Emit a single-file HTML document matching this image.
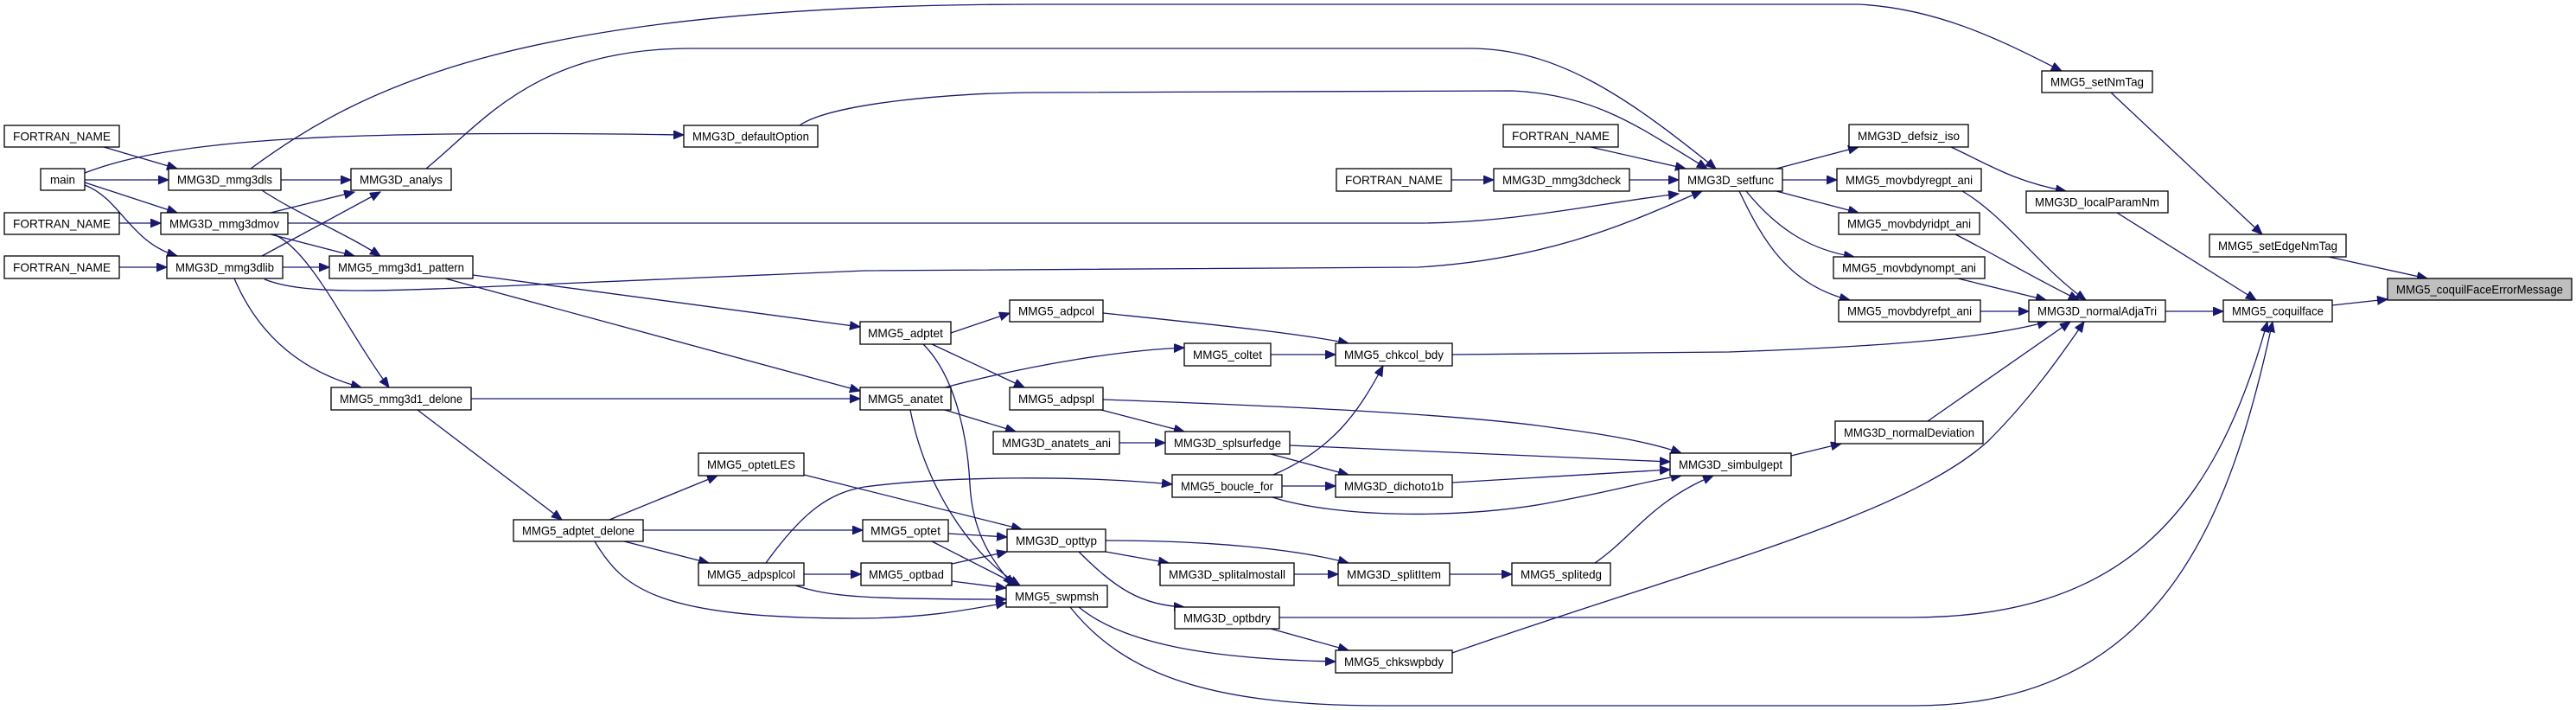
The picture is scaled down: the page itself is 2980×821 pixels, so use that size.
<!DOCTYPE html>
<html><head><meta charset="utf-8"><style>
html,body{margin:0;padding:0;background:#fff;}
svg{display:block;}
text{font-family:"Liberation Sans",sans-serif;font-size:14px;fill:#000;}
.e{fill:none;stroke:#191970;stroke-width:1.3;marker-end:url(#a);}
.n{fill:#fff;stroke:#000;stroke-width:1.3;}
</style></head><body>
<svg width="2980" height="821" viewBox="0 0 2980 821" xmlns="http://www.w3.org/2000/svg">
<defs><marker id="a" markerUnits="userSpaceOnUse" markerWidth="14" markerHeight="12" refX="12" refY="5" orient="auto"><path d="M0,0 L12,5 L0,10 z" fill="#191970" stroke="#191970"/></marker></defs>
<g>
<path class="e" d="M120,170 L205,195"/>
<path class="e" d="M98,208 L195,208"/>
<path class="e" d="M98,211 L205,246"/>
<path class="e" d="M98,214 C140,230 150,280 205,296"/>
<path class="e" d="M98,200 C200,160 400,150 791,156"/>
<path class="e" d="M138,258 L186,258"/>
<path class="e" d="M138,309 L193,309"/>
<path class="e" d="M325,208 L406,208"/>
<path class="e" d="M303,220 C340,245 400,270 440,296"/>
<path class="e" d="M290,195 C420,100 600,5 1200,5 L2150,5 C2250,10 2330,55 2385,82"/>
<path class="e" d="M493,195 C560,140 620,56 800,56 L1700,56 C1800,56 1880,110 1985,195"/>
<path class="e" d="M925,145 C960,120 1100,107 1200,107 L1750,105 C1850,110 1900,150 1975,195"/>
<path class="e" d="M313,246 L410,222"/>
<path class="e" d="M313,271 L410,296"/>
<path class="e" d="M317,271 C360,290 400,380 450,448"/>
<path class="e" d="M333,258 L1640,258 C1750,258 1850,235 1942,224"/>
<path class="e" d="M303,296 L440,222"/>
<path class="e" d="M327,309 L381,309"/>
<path class="e" d="M271,322 C300,390 350,430 418,448"/>
<path class="e" d="M306,323 C350,340 420,338 600,330 L1000,313 L1640,309 C1800,300 1900,250 1969,221"/>
<path class="e" d="M547,318 L995,378"/>
<path class="e" d="M515,322 L995,452"/>
<path class="e" d="M545,461 L995,461"/>
<path class="e" d="M483,474 L650,601"/>
<path class="e" d="M705,601 L830,550"/>
<path class="e" d="M744,613 L998,613"/>
<path class="e" d="M722,626 L820,651"/>
<path class="e" d="M688,626 C720,680 760,715 990,715 C1070,715 1120,705 1164,697"/>
<path class="e" d="M886,651 C930,590 960,570 1000,563 C1100,550 1250,550 1356,560"/>
<path class="e" d="M930,664 L996,664"/>
<path class="e" d="M920,677 C960,690 1000,693 1164,693"/>
<path class="e" d="M930,549 L1182,612"/>
<path class="e" d="M1097,617 L1165,621"/>
<path class="e" d="M1078,626 L1178,677"/>
<path class="e" d="M1101,652 L1165,638"/>
<path class="e" d="M1101,672 L1164,680"/>
<path class="e" d="M1100,385 L1168,362"/>
<path class="e" d="M1078,398 L1185,448"/>
<path class="e" d="M1068,398 C1110,440 1120,520 1122,560 C1125,620 1150,650 1172,677"/>
<path class="e" d="M1093,448 C1200,420 1300,405 1370,402"/>
<path class="e" d="M1093,474 L1175,499"/>
<path class="e" d="M1053,474 C1070,560 1120,640 1180,677"/>
<path class="e" d="M1276,362 C1400,375 1500,385 1560,397"/>
<path class="e" d="M1470,410 L1545,410"/>
<path class="e" d="M1680,410 L2000,407 C2200,400 2300,390 2369,372"/>
<path class="e" d="M1274,474 L1370,499"/>
<path class="e" d="M1276,462 C1500,470 1700,480 1800,495 C1880,505 1920,515 1945,524"/>
<path class="e" d="M1295,512 L1348,512"/>
<path class="e" d="M1492,515 L1932,534"/>
<path class="e" d="M1470,525 L1560,549"/>
<path class="e" d="M1473,549 C1540,520 1570,480 1600,423"/>
<path class="e" d="M1483,562 L1545,562"/>
<path class="e" d="M1472,575 C1550,600 1700,600 1800,580 C1880,565 1910,555 1945,550"/>
<path class="e" d="M1680,558 L1932,543"/>
<path class="e" d="M1279,625 C1400,625 1500,635 1560,651"/>
<path class="e" d="M1279,638 L1352,651"/>
<path class="e" d="M1248,638 C1290,680 1320,700 1370,702"/>
<path class="e" d="M1497,664 L1548,664"/>
<path class="e" d="M1677,664 L1749,664"/>
<path class="e" d="M1845,651 C1890,620 1910,580 1982,550"/>
<path class="e" d="M1248,702 C1300,745 1400,762 1545,765"/>
<path class="e" d="M1238,702 C1300,780 1400,816 1600,816 L2215,816 C2500,816 2580,600 2629,372"/>
<path class="e" d="M1470,727 L1560,752"/>
<path class="e" d="M1480,714 L2210,714 C2450,714 2560,600 2623,372"/>
<path class="e" d="M1680,755 C1950,660 2200,600 2300,510 C2350,460 2385,410 2411,372"/>
<path class="e" d="M2072,527 L2130,513"/>
<path class="e" d="M2230,487 L2395,372"/>
<path class="e" d="M1840,170 L1950,195"/>
<path class="e" d="M1679,208 L1728,208"/>
<path class="e" d="M1885,208 L1942,208"/>
<path class="e" d="M2055,195 L2150,170"/>
<path class="e" d="M2062,208 L2125,208"/>
<path class="e" d="M2055,221 L2150,246"/>
<path class="e" d="M2020,221 C2060,270 2100,290 2145,297"/>
<path class="e" d="M2012,221 C2040,280 2070,330 2140,347"/>
<path class="e" d="M2257,170 C2300,190 2330,210 2390,221"/>
<path class="e" d="M2270,221 C2320,250 2360,310 2413,347"/>
<path class="e" d="M2262,271 C2300,290 2350,320 2405,347"/>
<path class="e" d="M2265,322 L2367,347"/>
<path class="e" d="M2291,360 L2347,360"/>
<path class="e" d="M2449,246 L2610,347"/>
<path class="e" d="M2505,360 L2572,360"/>
<path class="e" d="M2442,107 L2617,271"/>
<path class="e" d="M2694,297 L2808,322"/>
<path class="e" d="M2698,353 L2762,346"/>
</g>
<g id="nodes"></g>
<g>
<rect class="n" x="5" y="145" width="133" height="25"/><text x="71.5" y="162.5" text-anchor="middle" textLength="113" lengthAdjust="spacingAndGlyphs">FORTRAN_NAME</text>
<rect class="n" x="47" y="195" width="51" height="25"/><text x="72.5" y="212.5" text-anchor="middle" textLength="29" lengthAdjust="spacingAndGlyphs">main</text>
<rect class="n" x="195" y="195" width="130" height="25"/><text x="260" y="212.5" text-anchor="middle" textLength="110" lengthAdjust="spacingAndGlyphs">MMG3D_mmg3dls</text>
<rect class="n" x="406" y="195" width="116" height="25"/><text x="464" y="212.5" text-anchor="middle" textLength="96" lengthAdjust="spacingAndGlyphs">MMG3D_analys</text>
<rect class="n" x="791" y="145" width="155" height="25"/><text x="868.5" y="162.5" text-anchor="middle" textLength="135" lengthAdjust="spacingAndGlyphs">MMG3D_defaultOption</text>
<rect class="n" x="5" y="246" width="133" height="25"/><text x="71.5" y="263.5" text-anchor="middle" textLength="113" lengthAdjust="spacingAndGlyphs">FORTRAN_NAME</text>
<rect class="n" x="186" y="246" width="147" height="25"/><text x="259.5" y="263.5" text-anchor="middle" textLength="127" lengthAdjust="spacingAndGlyphs">MMG3D_mmg3dmov</text>
<rect class="n" x="5" y="296" width="133" height="26"/><text x="71.5" y="314" text-anchor="middle" textLength="113" lengthAdjust="spacingAndGlyphs">FORTRAN_NAME</text>
<rect class="n" x="193" y="296" width="134" height="26"/><text x="260" y="314" text-anchor="middle" textLength="114" lengthAdjust="spacingAndGlyphs">MMG3D_mmg3dlib</text>
<rect class="n" x="381" y="296" width="166" height="26"/><text x="464" y="314" text-anchor="middle" textLength="146" lengthAdjust="spacingAndGlyphs">MMG5_mmg3d1_pattern</text>
<rect class="n" x="383" y="448" width="162" height="26"/><text x="464" y="466" text-anchor="middle" textLength="142" lengthAdjust="spacingAndGlyphs">MMG5_mmg3d1_delone</text>
<rect class="n" x="594" y="601" width="150" height="25"/><text x="669" y="618.5" text-anchor="middle" textLength="130" lengthAdjust="spacingAndGlyphs">MMG5_adptet_delone</text>
<rect class="n" x="808" y="524" width="122" height="26"/><text x="869" y="542" text-anchor="middle" textLength="102" lengthAdjust="spacingAndGlyphs">MMG5_optetLES</text>
<rect class="n" x="808" y="651" width="122" height="26"/><text x="869" y="669" text-anchor="middle" textLength="102" lengthAdjust="spacingAndGlyphs">MMG5_adpsplcol</text>
<rect class="n" x="995" y="372" width="105" height="26"/><text x="1047.5" y="390" text-anchor="middle" textLength="87" lengthAdjust="spacingAndGlyphs">MMG5_adptet</text>
<rect class="n" x="995" y="448" width="105" height="26"/><text x="1047.5" y="466" text-anchor="middle" textLength="87" lengthAdjust="spacingAndGlyphs">MMG5_anatet</text>
<rect class="n" x="998" y="601" width="99" height="25"/><text x="1047.5" y="618.5" text-anchor="middle" textLength="81" lengthAdjust="spacingAndGlyphs">MMG5_optet</text>
<rect class="n" x="996" y="651" width="105" height="26"/><text x="1048.5" y="669" text-anchor="middle" textLength="87" lengthAdjust="spacingAndGlyphs">MMG5_optbad</text>
<rect class="n" x="1168" y="347" width="108" height="25"/><text x="1222" y="364.5" text-anchor="middle" textLength="88" lengthAdjust="spacingAndGlyphs">MMG5_adpcol</text>
<rect class="n" x="1168" y="448" width="108" height="26"/><text x="1222" y="466" text-anchor="middle" textLength="88" lengthAdjust="spacingAndGlyphs">MMG5_adpspl</text>
<rect class="n" x="1149" y="499" width="146" height="26"/><text x="1222" y="517" text-anchor="middle" textLength="126" lengthAdjust="spacingAndGlyphs">MMG3D_anatets_ani</text>
<rect class="n" x="1165" y="612" width="114" height="26"/><text x="1222" y="630" text-anchor="middle" textLength="94" lengthAdjust="spacingAndGlyphs">MMG3D_opttyp</text>
<rect class="n" x="1164" y="677" width="117" height="25"/><text x="1222.5" y="694.5" text-anchor="middle" textLength="97" lengthAdjust="spacingAndGlyphs">MMG5_swpmsh</text>
<rect class="n" x="1370" y="397" width="100" height="26"/><text x="1420" y="415" text-anchor="middle" textLength="80" lengthAdjust="spacingAndGlyphs">MMG5_coltet</text>
<rect class="n" x="1348" y="499" width="144" height="26"/><text x="1420" y="517" text-anchor="middle" textLength="124" lengthAdjust="spacingAndGlyphs">MMG3D_splsurfedge</text>
<rect class="n" x="1356" y="549" width="127" height="26"/><text x="1419.5" y="567" text-anchor="middle" textLength="107" lengthAdjust="spacingAndGlyphs">MMG5_boucle_for</text>
<rect class="n" x="1342" y="651" width="155" height="26"/><text x="1419.5" y="669" text-anchor="middle" textLength="135" lengthAdjust="spacingAndGlyphs">MMG3D_splitalmostall</text>
<rect class="n" x="1359" y="702" width="121" height="25"/><text x="1419.5" y="719.5" text-anchor="middle" textLength="101" lengthAdjust="spacingAndGlyphs">MMG3D_optbdry</text>
<rect class="n" x="1545" y="397" width="135" height="26"/><text x="1612.5" y="415" text-anchor="middle" textLength="115" lengthAdjust="spacingAndGlyphs">MMG5_chkcol_bdy</text>
<rect class="n" x="1545" y="549" width="135" height="26"/><text x="1612.5" y="567" text-anchor="middle" textLength="115" lengthAdjust="spacingAndGlyphs">MMG3D_dichoto1b</text>
<rect class="n" x="1548" y="651" width="129" height="26"/><text x="1612.5" y="669" text-anchor="middle" textLength="109" lengthAdjust="spacingAndGlyphs">MMG3D_splitItem</text>
<rect class="n" x="1545" y="752" width="135" height="26"/><text x="1612.5" y="770" text-anchor="middle" textLength="115" lengthAdjust="spacingAndGlyphs">MMG5_chkswpbdy</text>
<rect class="n" x="1546" y="195" width="133" height="26"/><text x="1612.5" y="213" text-anchor="middle" textLength="113" lengthAdjust="spacingAndGlyphs">FORTRAN_NAME</text>
<rect class="n" x="1739" y="144" width="133" height="26"/><text x="1805.5" y="162" text-anchor="middle" textLength="113" lengthAdjust="spacingAndGlyphs">FORTRAN_NAME</text>
<rect class="n" x="1728" y="195" width="157" height="26"/><text x="1806.5" y="213" text-anchor="middle" textLength="137" lengthAdjust="spacingAndGlyphs">MMG3D_mmg3dcheck</text>
<rect class="n" x="1749" y="651" width="114" height="26"/><text x="1806" y="669" text-anchor="middle" textLength="94" lengthAdjust="spacingAndGlyphs">MMG5_splitedg</text>
<rect class="n" x="1942" y="195" width="120" height="26"/><text x="2002" y="213" text-anchor="middle" textLength="100" lengthAdjust="spacingAndGlyphs">MMG3D_setfunc</text>
<rect class="n" x="1932" y="524" width="140" height="26"/><text x="2002" y="542" text-anchor="middle" textLength="120" lengthAdjust="spacingAndGlyphs">MMG3D_simbulgept</text>
<rect class="n" x="2125" y="195" width="167" height="26"/><text x="2208.5" y="213" text-anchor="middle" textLength="147" lengthAdjust="spacingAndGlyphs">MMG5_movbdyregpt_ani</text>
<rect class="n" x="2139" y="144" width="138" height="26"/><text x="2208" y="162" text-anchor="middle" textLength="118" lengthAdjust="spacingAndGlyphs">MMG3D_defsiz_iso</text>
<rect class="n" x="2127" y="246" width="163" height="25"/><text x="2208.5" y="263.5" text-anchor="middle" textLength="143" lengthAdjust="spacingAndGlyphs">MMG5_movbdyridpt_ani</text>
<rect class="n" x="2121" y="297" width="175" height="25"/><text x="2208.5" y="314.5" text-anchor="middle" textLength="155" lengthAdjust="spacingAndGlyphs">MMG5_movbdynompt_ani</text>
<rect class="n" x="2127" y="347" width="164" height="25"/><text x="2209" y="364.5" text-anchor="middle" textLength="144" lengthAdjust="spacingAndGlyphs">MMG5_movbdyrefpt_ani</text>
<rect class="n" x="2123" y="487" width="171" height="26"/><text x="2208.5" y="505" text-anchor="middle" textLength="151" lengthAdjust="spacingAndGlyphs">MMG3D_normalDeviation</text>
<rect class="n" x="2362" y="82" width="128" height="25"/><text x="2426" y="99.5" text-anchor="middle" textLength="108" lengthAdjust="spacingAndGlyphs">MMG5_setNmTag</text>
<rect class="n" x="2344" y="221" width="164" height="25"/><text x="2426" y="238.5" text-anchor="middle" textLength="144" lengthAdjust="spacingAndGlyphs">MMG3D_localParamNm</text>
<rect class="n" x="2347" y="347" width="158" height="25"/><text x="2426" y="364.5" text-anchor="middle" textLength="138" lengthAdjust="spacingAndGlyphs">MMG3D_normalAdjaTri</text>
<rect class="n" x="2556" y="271" width="158" height="26"/><text x="2635" y="289" text-anchor="middle" textLength="138" lengthAdjust="spacingAndGlyphs">MMG5_setEdgeNmTag</text>
<rect class="n" x="2572" y="347" width="126" height="25"/><text x="2635" y="364.5" text-anchor="middle" textLength="106" lengthAdjust="spacingAndGlyphs">MMG5_coquilface</text>
<rect x="2762" y="322" width="213" height="25" fill="#bfbfbf" stroke="#000" stroke-width="1.3"/><text x="2868.5" y="339.5" text-anchor="middle" textLength="193" lengthAdjust="spacingAndGlyphs">MMG5_coquilFaceErrorMessage</text>
</g>
</svg>
</body></html>
